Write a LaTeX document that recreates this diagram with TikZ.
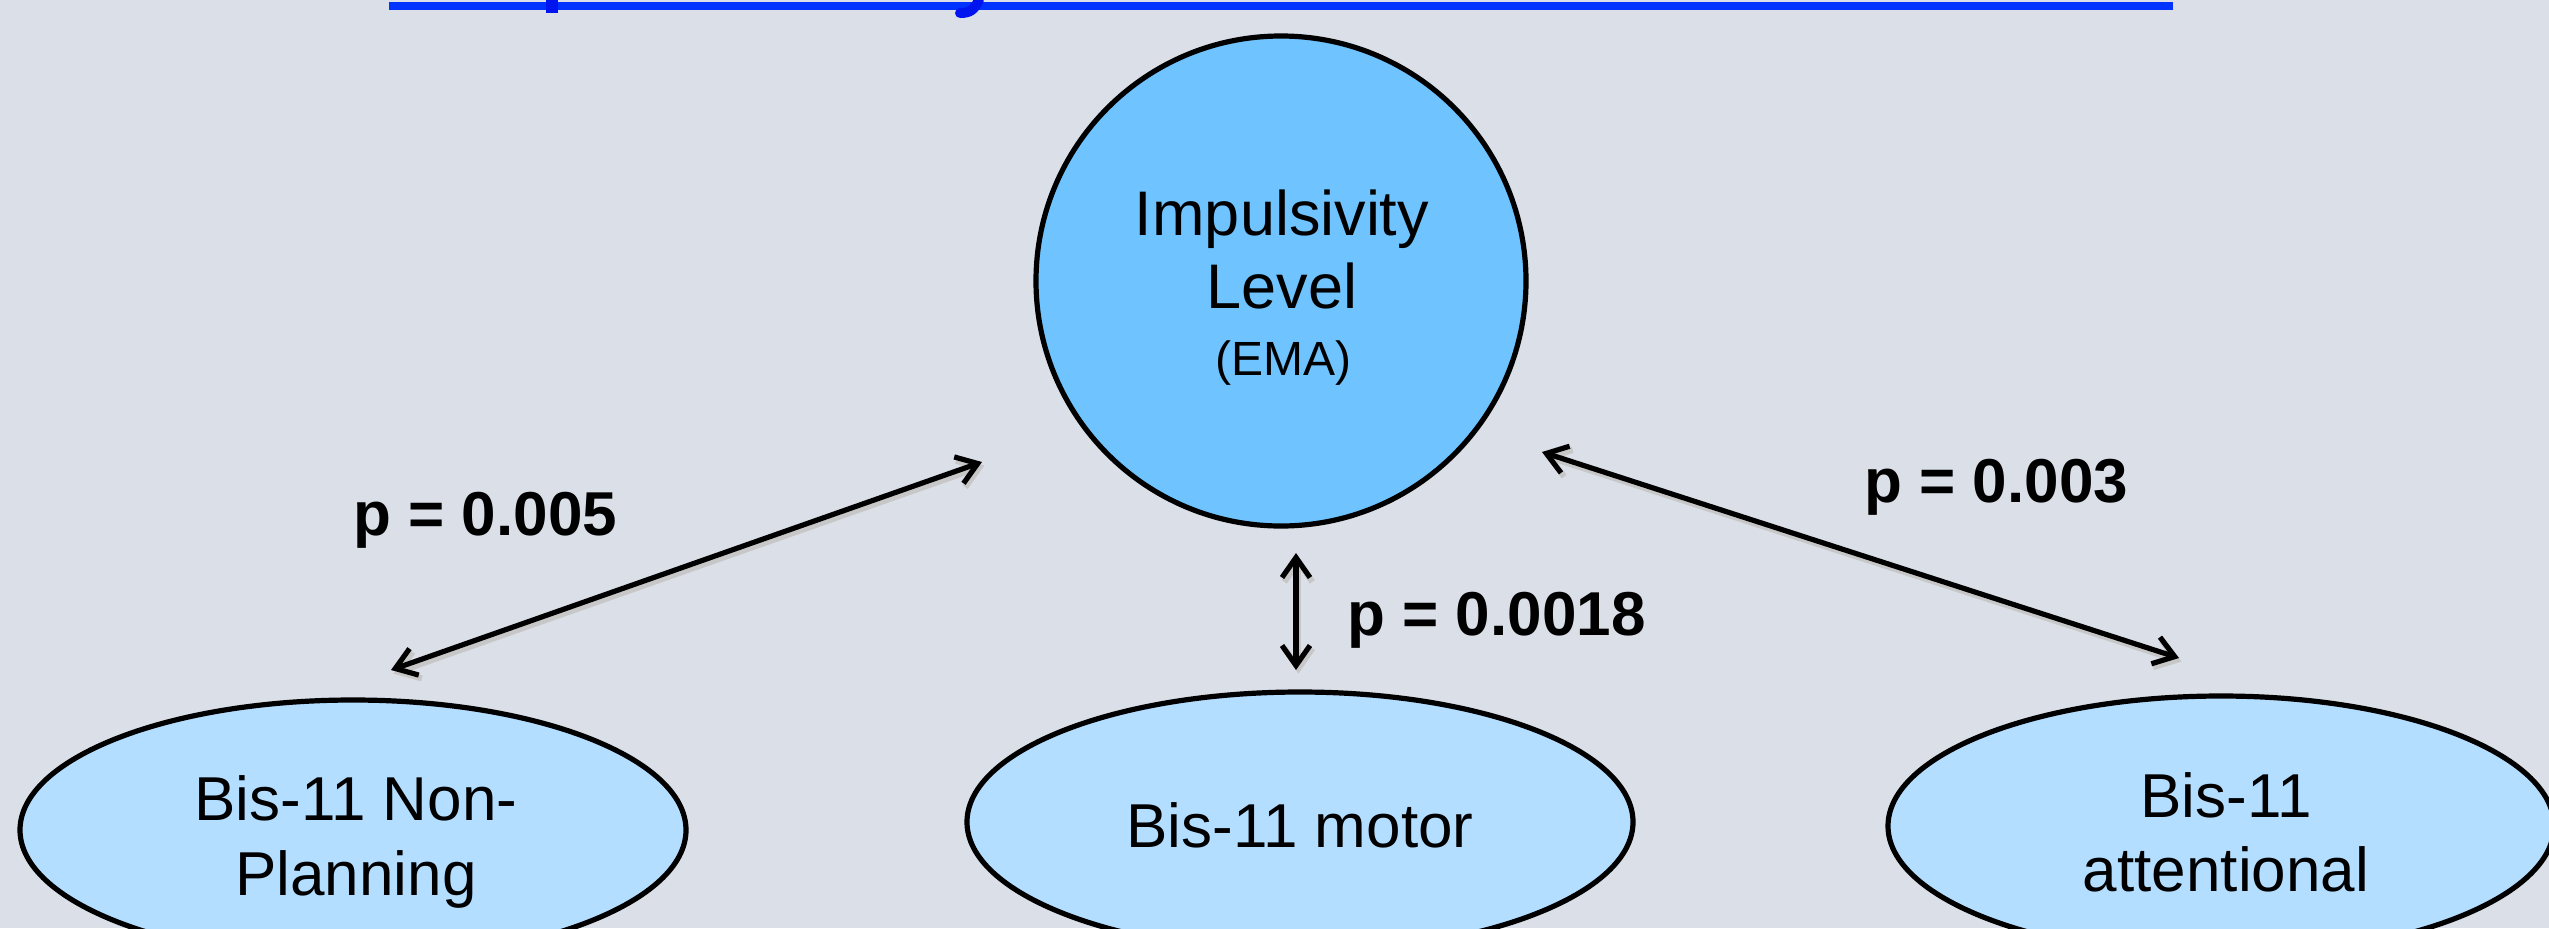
\documentclass[tikz,border=0pt]{standalone}
\usepackage{fontspec}
\setmainfont{Liberation Sans}
\usetikzlibrary{arrows.meta,shapes.geometric}
\definecolor{bg}{RGB}{218,223,232}
\definecolor{circfill}{RGB}{111,195,255}
\definecolor{ellfill}{RGB}{180,222,255}
\definecolor{linkblue}{RGB}{0,51,255}
\definecolor{textblue}{RGB}{0,20,240}
\begin{document}
\begin{tikzpicture}[x=0.5pt,y=-0.5pt,
  bigcircle/.style={circle,draw=black,line width=2.6pt,fill=circfill,minimum size=245pt,inner sep=0pt},
  oval/.style={ellipse,draw=black,line width=2.6pt,fill=ellfill,minimum width=333pt,minimum height=130pt,inner sep=0pt},
  lbl/.style={font=\fontsize{31pt}{36pt}\selectfont,anchor=base,inner sep=0pt},
  biglbl/.style={font=\fontsize{31.5pt}{36pt}\selectfont,anchor=base,inner sep=0pt},
  smalllbl/.style={font=\fontsize{24pt}{28pt}\selectfont,anchor=base,inner sep=0pt},
  plbl/.style={font=\fontsize{31pt}{36pt}\selectfont\bfseries,anchor=base west,inner sep=0pt},
  dblarrow/.style={{Straight Barb[length=10pt,width=14pt]}-{Straight Barb[length=10pt,width=14pt]},line width=2.6pt,line cap=round,line join=round,
     preaction={draw=black!22,line width=3pt,transform canvas={shift={(1.2pt,-1.8pt)}}}}
]
\fill[bg] (0,0) rectangle (2549,928);
\useasboundingbox (0,0) rectangle (2549,928);
\clip (0,0) rectangle (2549,928);

% cut-off title: underline and descenders
\fill[linkblue] (389,2) rectangle (2173,10);
\fill[textblue] (546,0) rectangle (558,13);
\draw[textblue,line width=5pt,line cap=round] (979,0) .. controls (974,10) and (970,13) .. (960,13);

% nodes
\node[bigcircle] (imp) at (1281,281) {};
\node[biglbl] (impA) at (1282,235) {Impulsivity};
\node[biglbl] (impB) at (1282,308) {Level};
\node[smalllbl] (impC) at (1283,375) {(EMA)};

\node[oval] (np) at (353,830) {};
\node[lbl] (npA) at (356,820) {Bis-11 Non-};
\node[lbl] (npB) at (356,895) {Planning};

\node[oval] (mot) at (1300,822) {};
\node[lbl] (motA) at (1300,847) {Bis-11 motor};

\node[oval] (att) at (2221,826) {};
\node[lbl] (attA) at (2226,817) {Bis-11};
\node[lbl] (attB) at (2226,891) {attentional};

% connector end points
\coordinate (impL) at (982,462);
\coordinate (npT) at (391,670);
\coordinate (impB0) at (1296,553);
\coordinate (motT) at (1296,670);
\coordinate (impR) at (1542,452);
\coordinate (attT) at (2179,658);

\draw[dblarrow] (npT) -- (impL);
\draw[dblarrow] (impB0) -- (motT);
\draw[dblarrow] (impR) -- (attT);

% p-values
\node[plbl] (p1) at (353,535) {p = 0.005};
\node[plbl] (p2) at (1347,635) {p = 0.0018};
\node[plbl] (p3) at (1864,502) {p = 0.003};
\end{tikzpicture}
\end{document}
